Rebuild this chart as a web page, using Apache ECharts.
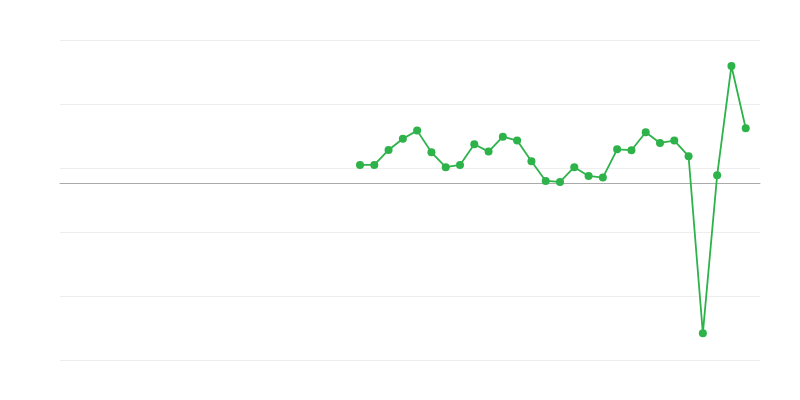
<!DOCTYPE html>
<html>
<head>
<meta charset="utf-8">
<script src="https://cdn.jsdelivr.net/npm/echarts@6/dist/echarts.min.js"></script>
<style>html,body{margin:0;padding:0;background:#fff}#c{width:800px;height:400px}</style>
</head>
<body>
<div id="c"></div>
<script>
// 50 category slots; data occupies slots 21..48
const categories = Array.from({length: 50}, (_, i) => String(i + 1));
const leadingEmpty = 21;
const values = [1.44, 1.44, 2.61, 3.49, 4.12, 2.43, 1.26, 1.44, 3.05, 2.48,
                3.65, 3.34, 1.73, 0.19, 0.11, 1.26, 0.58, 0.45, 2.66, 2.59,
                3.99, 3.16, 3.34, 2.12, -11.71, 0.63, 9.17, 4.30];
const yMin = -13.8, yMax = 11.2, yInterval = 5;

const seriesData = categories.map((c, i) => {
  const k = i - leadingEmpty;
  return (k >= 0 && k < values.length) ? values[k] : null;
});

const chart = echarts.init(document.getElementById('c'), null, {renderer: 'canvas'});
chart.setOption({
  animation: false,
  grid: {left: 60, right: 40, top: 40, bottom: 40},
  xAxis: {
    type: 'category',
    data: categories,
    boundaryGap: false,
    axisLine: {onZero: true, lineStyle: {color: '#aaaaaa', width: 1}},
    axisTick: {show: false},
    axisLabel: {show: false},
    splitLine: {show: false}
  },
  yAxis: {
    type: 'value',
    min: yMin, max: yMax, interval: yInterval,
    axisLine: {show: false},
    axisTick: {show: false},
    axisLabel: {show: false},
    splitLine: {lineStyle: {color: '#eeeeee', width: 1}}
  },
  series: [{
    type: 'line',
    data: seriesData,
    symbol: 'circle',
    symbolSize: 8,
    showAllSymbol: true,
    itemStyle: {color: '#2db34a'},
    lineStyle: {color: '#2db34a', width: 1.8}
  }]
});
</script>
</body>
</html>
